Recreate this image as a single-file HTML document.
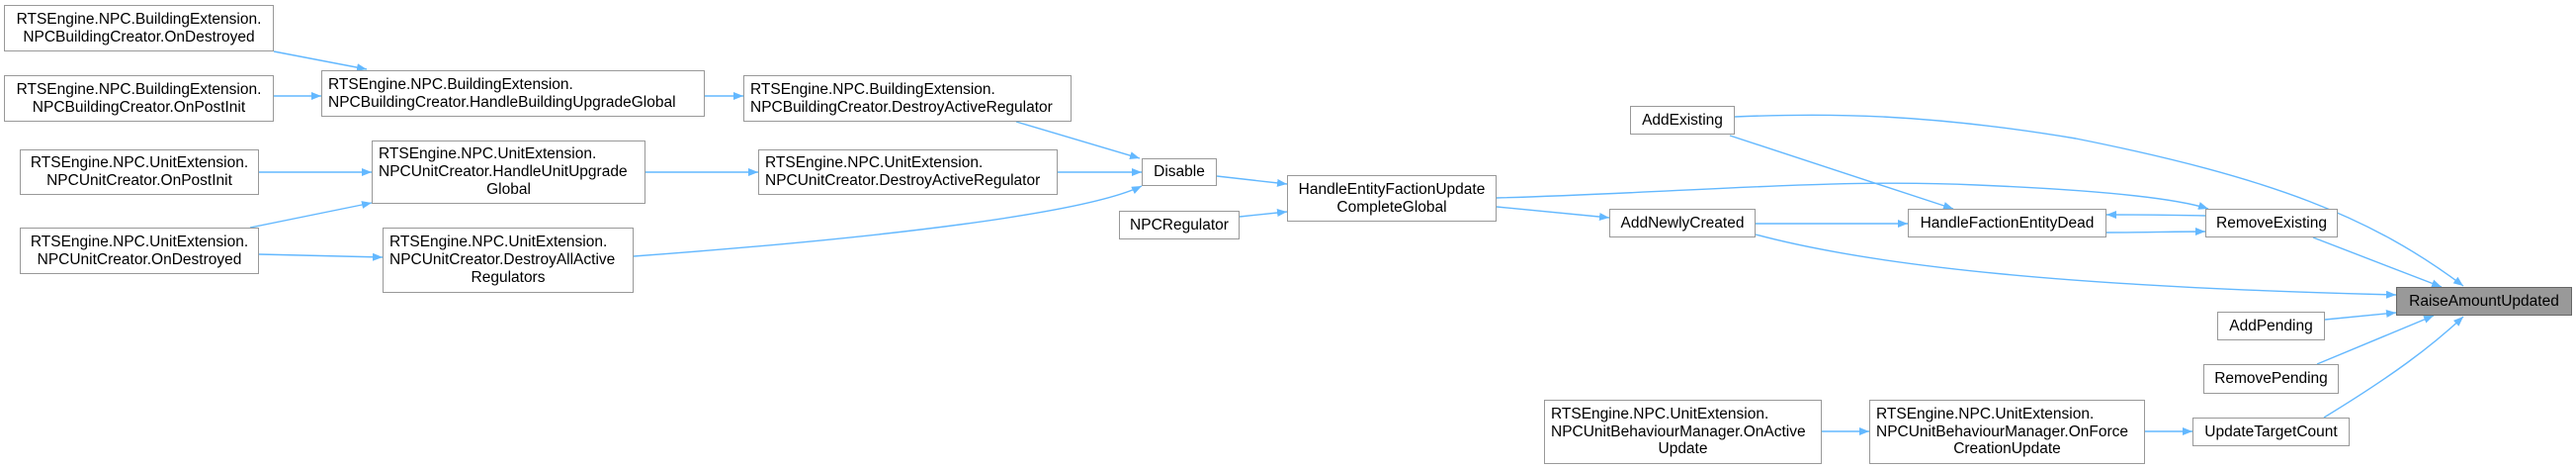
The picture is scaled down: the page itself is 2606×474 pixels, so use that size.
<!DOCTYPE html>
<html><head><meta charset="utf-8"><style>
html,body{margin:0;padding:0;background:#fff;width:2606px;height:474px;overflow:hidden;position:relative;font-family:"Liberation Sans",Arial,sans-serif;}
.n{position:absolute;box-sizing:border-box;border:1.5px solid #999;background:#fff;display:flex;flex-direction:column;justify-content:center;font-size:15.5px;line-height:17.7px;color:#000;padding:0 6px;white-space:nowrap;}
.c{text-align:center}.l{text-align:left}
svg{position:absolute;left:0;top:0}
</style></head><body>
<svg width="2606" height="474" viewBox="0 0 2606 474">
<defs><marker id="a" markerWidth="10" markerHeight="8" refX="10" refY="4" orient="auto" markerUnits="userSpaceOnUse"><path d="M0,0 L10,4 L0,8 z" fill="#63b8ff"/></marker></defs>
<g fill="none" stroke="#63b8ff" stroke-width="1.4" marker-end="url(#a)">
<path d="M277,52 L371,70"/>
<path d="M277,97 L325,97"/>
<path d="M713,97 L752,97"/>
<path d="M262,174 L376,174"/>
<path d="M253,230 L376,205"/>
<path d="M262,257 L387,260"/>
<path d="M653,174 L767,174"/>
<path d="M641,259 C900,240 1100,215 1155,188"/>
<path d="M1028,123 L1153,160"/>
<path d="M1070,174 L1155,174"/>
<path d="M1231,178 L1302,186"/>
<path d="M1254,219 L1302,214"/>
<path d="M1514,209 L1628,220"/>
<path d="M1514,200 C1700,195 1850,180 2000,187 C2120,192 2200,200 2234,211"/>
<path d="M1750,137 L1976,211"/>
<path d="M1776,226 L1930,226"/>
<path d="M2231,218 C2190,217 2160,217 2131,217"/>
<path d="M2131,235 C2170,235 2200,234 2231,234"/>
<path d="M1755,118 C1850,114 1950,115 2100,140 C2300,180 2400,220 2492,289"/>
<path d="M1776,237 C1900,270 2100,290 2424,298"/>
<path d="M2340,240 L2470,290"/>
<path d="M2352,323 L2424,316"/>
<path d="M2344,368 L2462,319"/>
<path d="M2351,422 C2420,380 2460,350 2492,320"/>
<path d="M1843,436 L1891,436"/>
<path d="M2170,436 L2218,436"/>
</g></svg>

<div class="n c" style="left:4px;top:5px;width:273px;height:47px"><div>RTSEngine.NPC.BuildingExtension.</div><div>NPCBuildingCreator.OnDestroyed</div></div>
<div class="n c" style="left:4px;top:76px;width:273px;height:47px"><div>RTSEngine.NPC.BuildingExtension.</div><div>NPCBuildingCreator.OnPostInit</div></div>
<div class="n l" style="left:325px;top:71px;width:388px;height:47px"><div>RTSEngine.NPC.BuildingExtension.</div><div>NPCBuildingCreator.HandleBuildingUpgradeGlobal</div></div>
<div class="n c" style="left:20px;top:151px;width:242px;height:46px"><div>RTSEngine.NPC.UnitExtension.</div><div>NPCUnitCreator.OnPostInit</div></div>
<div class="n" style="left:376px;top:142px;width:277px;height:64px"><div class="l">RTSEngine.NPC.UnitExtension.</div><div class="l">NPCUnitCreator.HandleUnitUpgrade</div><div class="c">Global</div></div>
<div class="n c" style="left:20px;top:230px;width:242px;height:47px"><div>RTSEngine.NPC.UnitExtension.</div><div>NPCUnitCreator.OnDestroyed</div></div>
<div class="n" style="left:387px;top:230px;width:254px;height:66px"><div class="l">RTSEngine.NPC.UnitExtension.</div><div class="l">NPCUnitCreator.DestroyAllActive</div><div class="c">Regulators</div></div>
<div class="n l" style="left:752px;top:76px;width:332px;height:47px"><div>RTSEngine.NPC.BuildingExtension.</div><div>NPCBuildingCreator.DestroyActiveRegulator</div></div>
<div class="n l" style="left:767px;top:151px;width:303px;height:46px"><div>RTSEngine.NPC.UnitExtension.</div><div>NPCUnitCreator.DestroyActiveRegulator</div></div>
<div class="n c" style="left:1155px;top:160px;width:76px;height:28px"><div>Disable</div></div>
<div class="n c" style="left:1132px;top:213px;width:122px;height:29px"><div>NPCRegulator</div></div>
<div class="n c" style="left:1302px;top:177px;width:212px;height:47px"><div>HandleEntityFactionUpdate</div><div>CompleteGlobal</div></div>
<div class="n c" style="left:1649px;top:107px;width:106px;height:29px"><div>AddExisting</div></div>
<div class="n c" style="left:1628px;top:211px;width:148px;height:29px"><div>AddNewlyCreated</div></div>
<div class="n c" style="left:1930px;top:211px;width:201px;height:29px"><div>HandleFactionEntityDead</div></div>
<div class="n c" style="left:2231px;top:211px;width:134px;height:29px"><div>RemoveExisting</div></div>
<div class="n c" style="left:2424px;top:290px;width:178px;height:29px;background:#999;border-color:#666"><div>RaiseAmountUpdated</div></div>
<div class="n c" style="left:2243px;top:315px;width:109px;height:29px"><div>AddPending</div></div>
<div class="n c" style="left:2229px;top:368px;width:137px;height:30px"><div>RemovePending</div></div>
<div class="n c" style="left:2218px;top:422px;width:159px;height:29px"><div>UpdateTargetCount</div></div>
<div class="n" style="left:1891px;top:404px;width:279px;height:65px"><div class="l">RTSEngine.NPC.UnitExtension.</div><div class="l">NPCUnitBehaviourManager.OnForce</div><div class="c">CreationUpdate</div></div>
<div class="n" style="left:1562px;top:404px;width:281px;height:65px"><div class="l">RTSEngine.NPC.UnitExtension.</div><div class="l">NPCUnitBehaviourManager.OnActive</div><div class="c">Update</div></div>
</body></html>
